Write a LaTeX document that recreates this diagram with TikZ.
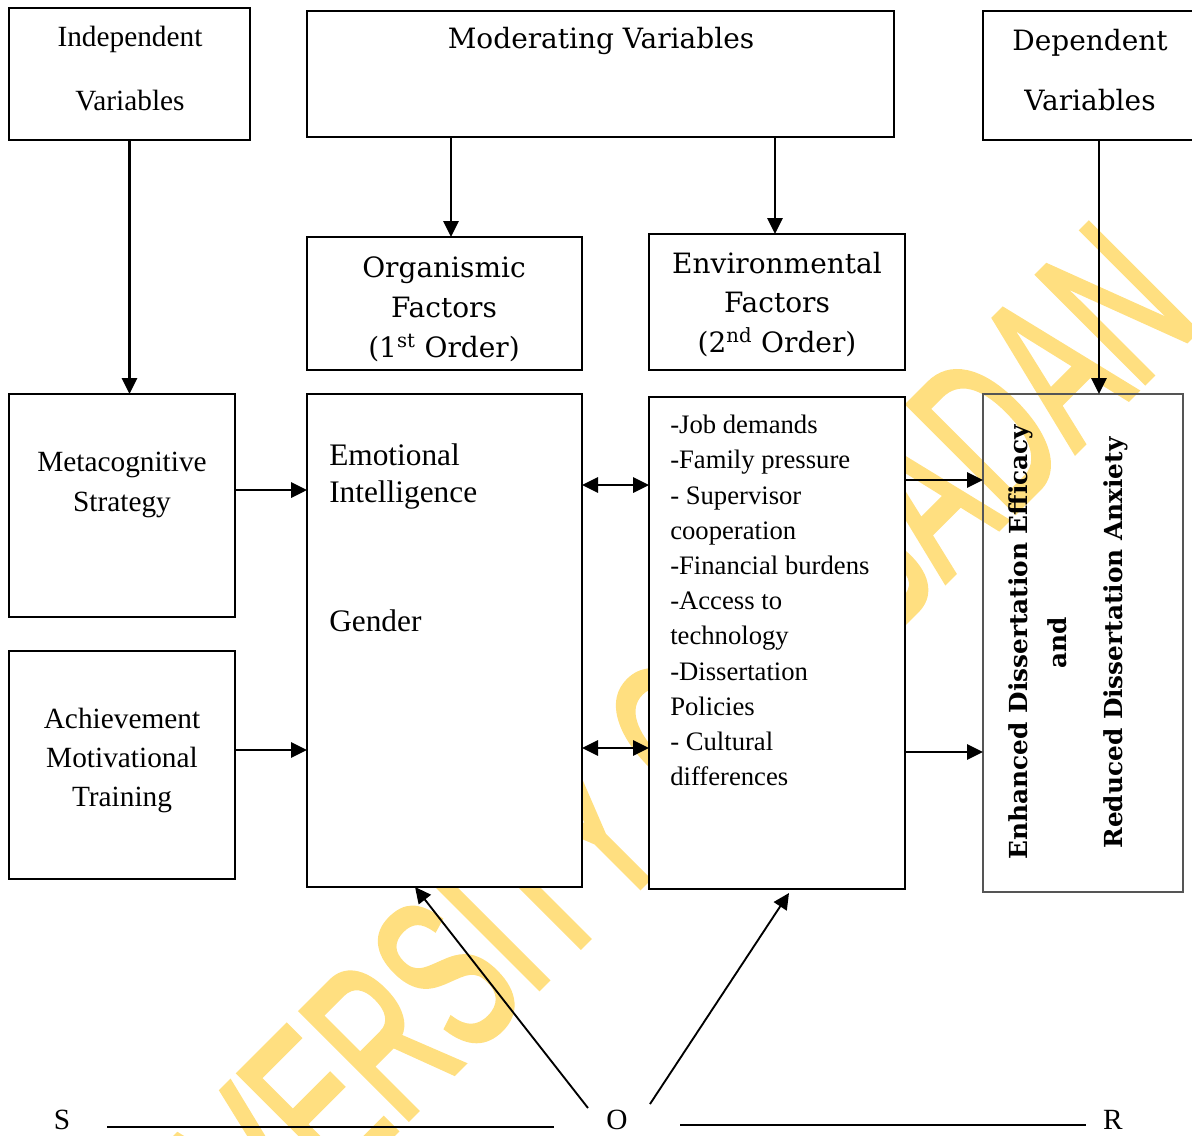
\documentclass[tikz,border=0pt]{standalone}
\usepackage{fontspec}
\setmainfont{Liberation Serif}
\newfontfamily\bk{DejaVu Serif}
\newfontfamily\wmfont[FakeBold=2.5]{Liberation Sans}
\usetikzlibrary{arrows.meta,calc}
\definecolor{wmyellow}{RGB}{255,223,128}
\definecolor{rbgray}{RGB}{85,85,85}
\begin{document}
\begin{tikzpicture}[x=0.75pt,y=-0.75pt,
  box/.style={draw, line width=1.6pt, fill=white, inner sep=0pt, outer sep=0pt},
  arr/.style={line width=1.6pt, -{Triangle[length=12pt,width=11.5pt]}},
  darr/.style={line width=1.6pt, {Triangle[length=12pt,width=11.5pt]}-{Triangle[length=12pt,width=11.5pt]}},
  txt/.style={inner sep=0pt, align=center},
  lbl/.style={inner sep=0pt, align=left}
]
\useasboundingbox (0,0) rectangle (1192,1135);
% watermark
\begin{scope}
\clip (0,0) rectangle (1192,1135);
\node[inner sep=0pt, anchor=base west, rotate=45, text=wmyellow,
      font=\wmfont\fontsize{165}{165}\selectfont] (wm) at (115,1412)
      {\scalebox{0.6}[1]{UNIVERSITY OF IBADAN}};
\end{scope}
% boxes
\node[box, minimum width=180.75pt, minimum height=99pt] (iv) at (129.5,74) {};
\node[box, minimum width=440.25pt, minimum height=94.5pt] (mv) at (600.5,74) {};
\node[box, minimum width=162.75pt, minimum height=96.75pt] (dv) at (1091.5,75.5) {};
\node[box, minimum width=206.25pt, minimum height=99.75pt] (org) at (444.5,303.5) {};
\node[box, minimum width=192pt, minimum height=102pt] (env) at (777,302) {};
\node[box, minimum width=169.5pt, minimum height=167.25pt] (meta) at (122,505.5) {};
\node[box, minimum width=169.5pt, minimum height=171pt] (amt) at (122,765) {};
\node[box, minimum width=206.25pt, minimum height=369.75pt] (ei) at (444.5,640.5) {};
\node[box, minimum width=192pt, minimum height=369pt] (envl) at (777,643) {};
\node[draw=rbgray, line width=1.2pt, inner sep=0pt, outer sep=0pt,
      minimum width=150pt, minimum height=373.5pt] (dep) at (1083,643) {};
% texts
\node[txt, font=\fontsize{22}{48}\selectfont] (ivt) at (130,69) {Independent\\Variables};
\node[txt, font=\bk\fontsize{21}{30}\selectfont] (mvt) at (601,41) {Moderating Variables};
\node[txt, font=\bk\fontsize{21}{45}\selectfont] (dvt) at (1090,70.5) {Dependent\\Variables};
\node[txt, font=\bk\fontsize{21}{30}\selectfont] (orgt) at (444,309) {Organismic\\Factors\\(1\textsuperscript{st} Order)};
\node[txt, font=\bk\fontsize{21}{29.6}\selectfont] (envt) at (777,304.5) {Environmental\\Factors\\(2\textsuperscript{nd} Order)};
\node[txt, font=\fontsize{22}{30}\selectfont] (metat) at (122,485) {Metacognitive\\Strategy};
\node[txt, font=\fontsize{22}{29.25}\selectfont] (amtt) at (122,760) {Achievement\\Motivational\\Training};
\node[lbl, anchor=north west, font=\fontsize{23.5}{28}\selectfont] (eit) at (329,443) {Emotional\\Intelligence};
\node[lbl, anchor=north west, font=\fontsize{23.5}{28}\selectfont] (gen) at (329,609) {Gender};
\node[lbl, anchor=north west, font=\fontsize{20}{26.4}\selectfont] (envlt) at (670,415)
  {-Job demands\\-Family pressure\\- Supervisor\\cooperation\\-Financial burdens\\-Access to\\technology\\-Dissertation\\Policies\\- Cultural\\differences};
\node[txt, rotate=90, font=\bk\bfseries\fontsize{18.6}{20}\selectfont] (dep1) at (1021,642) {Enhanced Dissertation Efficacy};
\node[txt, rotate=90, font=\bk\bfseries\fontsize{18.6}{20}\selectfont] (dep2) at (1057,643) {and};
\node[txt, rotate=90, font=\bk\bfseries\fontsize{18.6}{20}\selectfont] (dep3) at (1116,643) {Reduced Dissertation Anxiety};
\node[txt, font=\fontsize{22}{26}\selectfont] (s) at (62,1120) {S};
\node[txt, font=\fontsize{22}{26}\selectfont] (o) at (617,1120) {O};
\node[txt, font=\fontsize{22}{26}\selectfont] (r) at (1113,1120) {R};
% connectors
\draw[arr] (iv.south) -- (iv.south |- meta.north);
\coordinate (a1) at ([xshift=4.9pt]org.north);
\draw[arr] (mv.south -| a1) -- (a1);
\coordinate (a2) at ([xshift=-1.5pt]env.north);
\draw[arr] (mv.south -| a2) -- (a2);
\coordinate (a3) at ([xshift=12pt]dep.north);
\draw[arr] (dv.south -| a3) -- (a3);
\coordinate (b1) at ([yshift=11.6pt]meta.east);
\draw[arr] (b1) -- (b1 -| ei.west);
\coordinate (b2) at ([yshift=11.25pt]amt.east);
\draw[arr] (b2) -- (b2 -| ei.west);
\coordinate (c1) at ([yshift=116.6pt]ei.east);
\draw[darr] (c1) -- (c1 -| envl.west);
\coordinate (c2) at ([yshift=-80.6pt]ei.east);
\draw[darr] (c2) -- (c2 -| envl.west);
\coordinate (d1) at ([yshift=122.25pt]envl.east);
\draw[arr] (d1) -- (d1 -| dep.west);
\coordinate (d2) at ([yshift=-81.75pt]envl.east);
\draw[arr] (d2) -- (d2 -| dep.west);
\coordinate (o1) at ([xshift=-21.75pt,yshift=9pt]o.center);
\draw[arr, line width=1.4pt] (o1) -- ([xshift=-22.1pt]ei.south);
\coordinate (o2) at ([xshift=24.75pt,yshift=12pt]o.center);
\draw[arr, line width=1.4pt] (o2) -- ([xshift=9pt,yshift=-3pt]envl.south);
\coordinate (sl1) at (107,1127);
\coordinate (sl2) at (554,1127);
\draw[line width=1.5pt] (sl1) -- (sl2);
\coordinate (rl1) at (680,1125);
\coordinate (rl2) at (1086,1125);
\draw[line width=1.5pt] (rl1) -- (rl2);
\end{tikzpicture}
\end{document}
